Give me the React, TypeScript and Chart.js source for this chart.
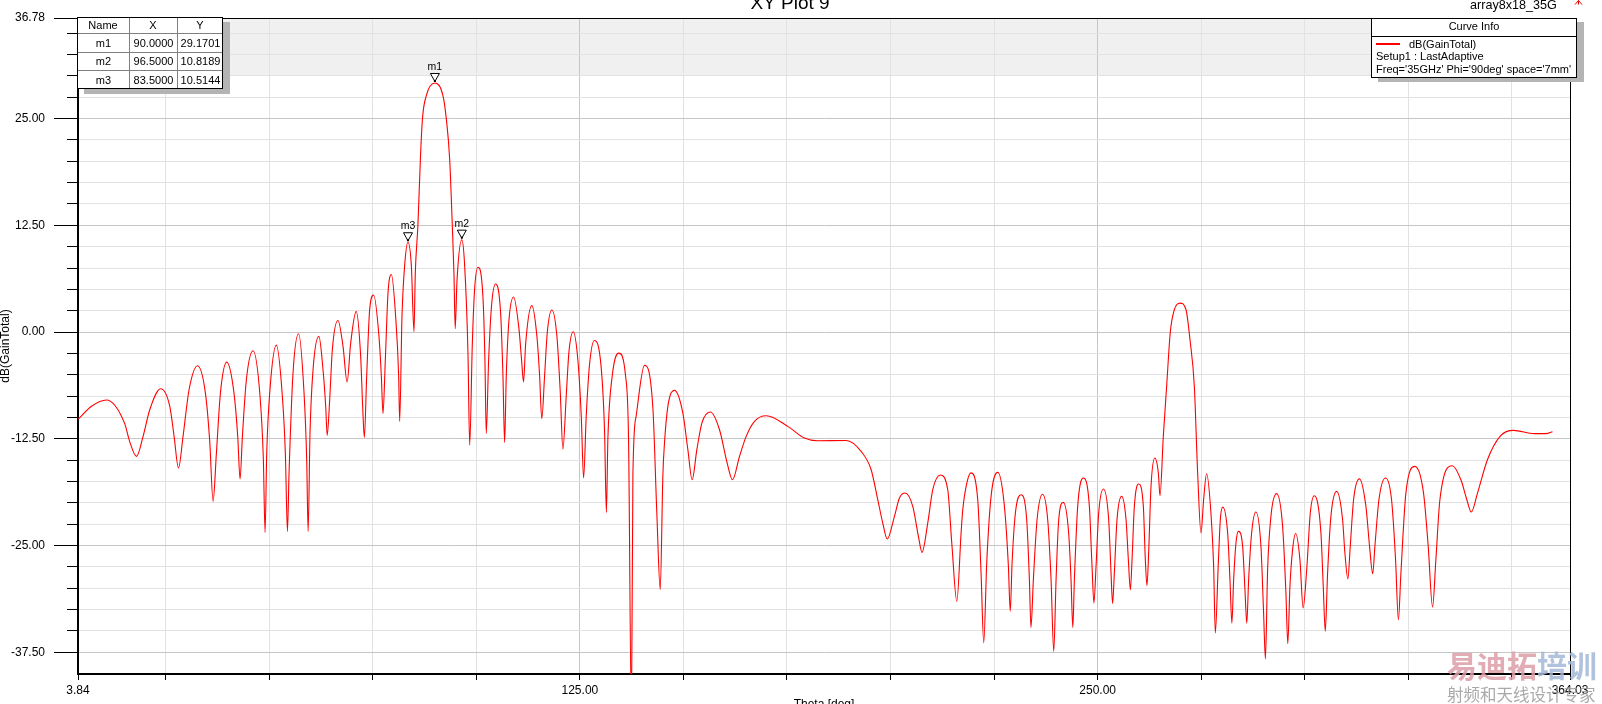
import React, { useEffect, useRef } from "react";
import { Chart, registerables } from "chart.js";

Chart.register(...registerables);

// ---- curve: theta (deg) and dB(GainTotal) ----
const thetaDeg: number[] = [
  3.9, 7.1, 10.7, 15.1, 16.3, 17.95,
  19.55, 21.16, 23.8, 26.0, 27.04, 28.1,
  29.2, 30.65, 32.7, 34.6, 35.64, 36.45,
  37.25, 38.22, 39.74, 41.5, 42.4, 42.96,
  43.53, 44.49, 46.1, 47.79, 48.59, 49.0,
  49.4, 50.12, 51.73, 53.18, 53.9, 54.4,
  54.79, 55.75, 57.1, 58.41, 59.05, 59.4,
  59.85, 60.58, 62.0, 62.99, 63.64, 64.0,
  64.6, 65.24, 66.6, 67.82, 68.8,
  69.67, 71.0, 72.08, 72.56, 72.97,
  73.53, 74.25, 75.2, 76.5, 77.07, 77.47,
  78.03, 78.68, 79.5, 80.53, 81.25, 81.5,
  82.05, 82.7, 83.5, 84.31, 84.95,
  85.27, 85.9, 86.5, 87.0, 87.93, 90.0, 91.94, 92.75, 93.56, 94.2, 94.6, 94.9,
  95.33, 96.5, 97.18, 97.98, 98.4,
  99.03, 99.59, 100.4, 101.6, 102.08, 102.4,
  102.97, 103.69, 104.66, 105.86, 106.43, 106.83,
  107.23, 107.87, 109.0, 110.29, 110.93, 111.4,
  111.9, 113.4, 114.63, 115.28, 115.8,
  116.48, 117.13, 118.25, 119.46, 120.26, 120.9,
  121.71, 122.35, 123.4, 124.52, 125.33, 125.9,
  126.54, 127.34, 128.5, 130.16, 130.96, 131.4,
  131.76, 132.81, 134.4, 136.03, 136.75, 137.45,
  137.8, 138.6, 140.6, 142.62, 143.59, 144.4,
  145.04, 145.4, 146.24, 147.85, 149.86, 151.07, 152.1,
  153.24, 154.45, 156.5, 158.71, 160.56, 161.85,
  163.54, 165.15, 167.16, 170.0, 175.2, 179.2, 182.4, 189.3,
  192.9, 195.3, 196.9, 198.12, 199.2,
  200.94, 202.15, 203.5, 205.36, 206.73, 207.6,
  208.98, 210.19, 212.0, 213.81, 214.78, 216.0,
  217.03, 217.43, 218.24, 219.4, 221.05, 221.85, 222.5,
  223.22, 224.27, 225.9, 227.49, 228.45, 228.9,
  229.34, 230.14, 231.5, 232.87, 233.52, 233.9,
  234.48, 235.37, 236.7, 237.94, 238.75, 239.4,
  239.96, 240.6, 241.7, 243.0, 243.57, 244.0,
  244.38, 245.18, 246.55, 248.0, 248.64, 249.1,
  249.61, 250.25, 251.4, 252.66, 253.23, 253.6,
  254.03, 254.67, 255.8, 256.85, 257.41, 257.9,
  258.3, 258.86, 259.9, 261.03, 261.51, 261.9,
  262.31, 262.88, 263.8, 264.65, 265.05,
  265.85, 266.65, 267.54, 268.51, 269.9, 271.33, 272.29, 273.34, 274.14, 274.95,
  275.58, 276.3, 277.35, 278.0, 278.4,
  279.13, 279.61, 280.2, 281.38, 281.94, 282.4,
  282.83, 283.39, 284.0, 285.0, 285.56, 286.0,
  286.45, 287.17, 288.2, 289.42, 290.06, 290.5,
  291.03, 291.83, 293.2, 294.65, 295.45, 295.9,
  296.42, 297.06, 297.8, 298.83, 299.6,
  300.52, 301.33, 302.3, 303.9, 304.46, 304.95,
  305.51, 306.31, 307.7, 309.13, 309.69, 310.4,
  310.98, 311.78, 313.2, 314.76, 315.64, 316.4,
  316.93, 317.9, 319.5, 320.95, 321.92, 322.6,
  323.21, 324.41, 326.6, 328.67, 329.8, 330.85,
  331.65, 332.62, 335.6, 337.69, 339.13, 340.2,
  341.7, 344.1, 347.3, 350.4, 355.4, 358.2, 359.8,
];

const gainDb: number[] = [
  -10.2, -8.7, -7.96, -10.7, -12.8, -14.56,
  -12.22, -9.1, -6.64, -8.7, -12.22, -15.93,
  -12.22, -6.76, -3.95, -7.15, -12.8, -19.83,
  -14.2, -7.15, -3.52, -7.15, -12.22, -17.22,
  -12.22, -5.59, -2.19, -7.54, -14.95, -23.46,
  -14.2, -7.15, -1.53, -7.54, -14.2, -23.35,
  -16.5, -4.8, -0.2, -7.15, -14.95, -23.35,
  -11.83, -4.41, -0.51, -4.41, -8.7, -12.1,
  -7.93, -2.07, 1.36, -1.68, -5.86,
  -1.29, 2.42, -2.85, -8.7, -12.34,
  -5.2, 2.61, 4.33, -0.53, -5.15, -9.55,
  -3.3, 4.57, 6.74, 1.79, -5.15, -10.48,
  1.79, 7.81, 10.51, 7.81, 0.03,
  6.9, 12.5, 20.3, 25.0, 27.7, 29.17, 27.7, 25.0, 20.3, 12.5, 6.9, 0.4,
  5.96, 10.82, 7.81, -2.38, -13.26,
  -1.45, 5.03, 7.58, 4.11, -3.3, -11.87,
  -3.3, 3.17, 5.63, 2.25, -5.15, -12.94,
  -5.15, 1.32, 4.11, 0.4, -3.3, -5.85,
  -1.45, 3.09, -0.53, -5.15, -10.15,
  -5.15, -0.06, 2.58, -0.53, -7.0, -13.72,
  -7.47, -2.38, 0.03, -3.3, -9.79, -17.1,
  -9.79, -3.77, -0.99, -4.23, -11.64, -21.13,
  -12.56, -5.15, -2.47, -5.15, -12.56, -45,
  -16.73, -9.79, -3.9, -8.86, -21.36, -30.17,
  -16.73, -13.2, -8.71, -6.83, -9.49, -13.78, -17.3,
  -13.78, -10.66, -9.37, -11.44, -15.34, -17.3,
  -14.56, -12.22, -10.46, -9.8, -11.05, -12.42, -12.73, -12.7,
  -13.98, -16.1, -19.6, -22.37, -24.24,
  -21.59, -19.44, -18.86, -20.42, -23.93, -25.8,
  -22.37, -18.47, -16.75, -18.47, -24.71, -31.54,
  -23.54, -20.81, -18.08, -16.5, -19.64, -28.22, -36.4,
  -27.05, -19.25, -16.44, -20.42, -27.44, -32.7,
  -27.05, -21.2, -19.05, -21.98, -29.0, -34.6,
  -29.0, -21.98, -19.0, -21.98, -29.0, -37.4,
  -29.0, -21.98, -19.95, -23.54, -29.0, -34.6,
  -29.0, -20.42, -17.1, -20.42, -27.44, -31.74,
  -27.44, -21.2, -18.39, -21.98, -28.22, -31.8,
  -28.22, -21.98, -19.25, -21.98, -26.66, -30.2,
  -26.66, -20.42, -17.8, -20.42, -26.66, -29.7,
  -25.88, -18.08, -14.76, -16.51, -19.17,
  -12.22, -6.37, 0, 2.61, 3.39, 2.61, -0.9, -6.37, -16.51, -23.54,
  -19.64, -16.6, -21.2, -27.44, -35.25,
  -27.05, -21.98, -20.5, -23.54, -29.0, -34.1,
  -29.0, -24.71, -23.35, -25.1, -30.18, -34.1,
  -29.0, -23.54, -21.08, -25.1, -32.9, -38.3,
  -27.83, -21.59, -18.93, -22.76, -30.57, -36.5,
  -29.78, -25.49, -23.6, -26.66, -32.3,
  -27.44, -21.2, -19.17, -23.54, -29.78, -35.05,
  -28.22, -21.59, -18.66, -21.98, -25.88, -28.9,
  -25.1, -19.64, -17.2, -20.42, -25.1, -28.3,
  -25.1, -19.64, -17.1, -19.64, -26.66, -33.7,
  -28.22, -18.86, -15.73, -18.86, -25.1, -32.2,
  -26.66, -19.64, -15.66, -17.3, -19.64, -21.08,
  -18.86, -14.95, -12.14, -11.52, -11.9, -11.9, -11.67,
];

// ---- axes ----
const xRange = [3.84, 364.03];
const yRange = [-40.05, 36.78];
const xTicks = [3.84, 25, 50, 75, 100, 125, 150, 175, 200, 225, 250, 275, 300, 325, 350, 364.03];
const xLabelTicks = [3.84, 125, 250, 364.03];
const xMajorGrid = [125, 250];
const yTicks = [
  -37.5, -35, -32.5, -30, -27.5, -25, -22.5, -20, -17.5, -15, -12.5, -10, -7.5, -5, -2.5,
  0, 2.5, 5, 7.5, 10, 12.5, 15, 17.5, 20, 22.5, 25, 27.5, 30, 32.5, 35, 36.78,
];
const yLabelTicks = [-37.5, -25, -12.5, 0, 12.5, 25, 36.78];
const bandRange = [30, 36.78];

// ---- markers ----
const markerNames = ["m1", "m2", "m3"];
const markerTheta = [90.0, 96.5, 83.5];
const markerGain = [29.1701, 10.8189, 10.5144];
const tableHeader = ["Name", "X", "Y"];

// ---- texts ----
const plotTitle = "XY Plot 9";
const designName = "array8x18_35G";
const xTitle = "Theta [deg]";
const yTitle = "dB(GainTotal)";
const legendTitle = "Curve Info";
const legendLines = ["dB(GainTotal)", "Setup1 : LastAdaptive", "Freq='35GHz' Phi='90deg' space='7mm'"];
const watermarkRed = "易迪拓";
const watermarkBlue = "培训";
const watermarkSub = "射频和天线设计专家";

const FONT = '"Liberation Sans", Arial, sans-serif';
const isIn = (v: number, arr: number[]) => arr.some((a) => Math.abs(a - v) < 1e-6);

const bandPlugin = {
  id: "band",
  beforeDraw(chart: any) {
    const { ctx, chartArea: a, scales } = chart;
    const yb = scales.y.getPixelForValue(bandRange[0]);
    const yt = scales.y.getPixelForValue(bandRange[1]);
    ctx.save();
    ctx.fillStyle = "#f0f0f0";
    ctx.fillRect(a.left, yt, a.right - a.left, yb - yt);
    ctx.restore();
  },
};

const decorPlugin = {
  id: "decor",
  afterDraw(chart: any) {
    const { ctx, chartArea: a, scales } = chart;
    const xs = scales.x;
    const ys = scales.y;
    ctx.save();
    ctx.fillStyle = "#000";
    // frame top & right
    ctx.fillRect(a.left, a.top, a.right - a.left + 1, 1);
    ctx.fillRect(a.right, a.top, 1, a.bottom - a.top);
    // tick marks
    yTicks.forEach((v) => {
      const p = Math.round(ys.getPixelForValue(v) - 0.5);
      const len = isIn(v, yLabelTicks) ? 24 : 11;
      ctx.fillRect(a.left - len, p, len, 1);
    });
    xTicks.forEach((v) => {
      const p = Math.round(xs.getPixelForValue(v) - 0.5);
      ctx.fillRect(p, a.bottom, 1, 6);
    });

    // markers
    markerNames.forEach((name, i) => {
      const px = xs.getPixelForValue(markerTheta[i]);
      const py = ys.getPixelForValue(markerGain[i]);
      ctx.beginPath();
      ctx.moveTo(px - 4.5, py - 9.5);
      ctx.lineTo(px + 4.5, py - 9.5);
      ctx.lineTo(px, py - 1.5);
      ctx.closePath();
      ctx.fillStyle = "#fff";
      ctx.fill();
      ctx.strokeStyle = "#000";
      ctx.lineWidth = 1;
      ctx.stroke();
      ctx.fillStyle = "#000";
      ctx.fillRect(px - 1, py - 3, 2, 2);
      ctx.font = `10.5px ${FONT}`;
      ctx.textAlign = "center";
      ctx.textBaseline = "alphabetic";
      ctx.fillText(name, px, py - 13);
    });

    // marker table
    const cols = [77, 129, 177, 223];
    const rows = [17, 33, 52, 70, 89];
    const textY = [25.5, 43.5, 62, 80.5];
    ctx.fillStyle = "#b4b4b4";
    ctx.fillRect(cols[0] + 7, rows[0] + 5, cols[3] - cols[0], rows[4] - rows[0]);
    ctx.fillStyle = "#fff";
    ctx.fillRect(cols[0], rows[0], cols[3] - cols[0], rows[4] - rows[0]);
    ctx.fillStyle = "#808080";
    for (let c = 1; c < 3; c++) ctx.fillRect(cols[c], rows[0], 1, rows[4] - rows[0]);
    for (let r = 1; r < 4; r++) ctx.fillRect(cols[0], rows[r], cols[3] - cols[0], 1);
    ctx.strokeStyle = "#000";
    ctx.lineWidth = 1;
    ctx.strokeRect(cols[0] + 0.5, rows[0] + 0.5, cols[3] - cols[0] - 1, rows[4] - rows[0] - 1);
    ctx.fillStyle = "#000";
    ctx.font = `11px ${FONT}`;
    ctx.textAlign = "center";
    ctx.textBaseline = "middle";
    tableHeader.forEach((h, c) => ctx.fillText(h, (cols[c] + cols[c + 1]) / 2, textY[0]));
    markerNames.forEach((name, i) => {
      const cells = [name, markerTheta[i].toFixed(4), markerGain[i].toFixed(4)];
      cells.forEach((t, c) => ctx.fillText(t, (cols[c] + cols[c + 1]) / 2 + 0.5, textY[i + 1]));
    });

    // curve info legend
    const lx0 = 1371, lx1 = 1577, ly0 = 18, ly1 = 78;
    ctx.fillStyle = "#b4b4b4";
    ctx.fillRect(lx0 + 7, ly0 + 4, lx1 - lx0, ly1 - ly0);
    ctx.fillStyle = "#fff";
    ctx.fillRect(lx0, ly0, lx1 - lx0, ly1 - ly0);
    ctx.strokeStyle = "#000";
    ctx.strokeRect(lx0 + 0.5, ly0 + 0.5, lx1 - lx0 - 1, ly1 - ly0 - 1);
    ctx.fillStyle = "#000";
    ctx.fillRect(lx0, 36, lx1 - lx0, 1);
    ctx.font = `11px ${FONT}`;
    ctx.textAlign = "center";
    ctx.textBaseline = "middle";
    ctx.fillText(legendTitle, (lx0 + lx1) / 2, 27);
    ctx.fillStyle = "#ff0000";
    ctx.fillRect(1376, 43, 24, 2);
    ctx.fillStyle = "#000";
    ctx.textAlign = "left";
    ctx.fillText(legendLines[0], 1409, 44.5);
    ctx.fillText(legendLines[1], 1376, 57);
    ctx.fillText(legendLines[2], 1376, 69.5);

    // title & design name
    ctx.font = `19px ${FONT}`;
    ctx.textAlign = "center";
    ctx.textBaseline = "alphabetic";
    ctx.fillText(plotTitle, 790, 9);
    ctx.font = `12.6px ${FONT}`;
    ctx.textAlign = "left";
    ctx.fillText(designName, 1470, 8.5);
    ctx.strokeStyle = "#e00000";
    ctx.lineWidth = 1;
    ctx.beginPath();
    ctx.moveTo(1575, 4.5);
    ctx.lineTo(1578.5, 0.5);
    ctx.lineTo(1582, 4.5);
    ctx.moveTo(1578.5, 0.5);
    ctx.lineTo(1578.5, 4.5);
    ctx.stroke();

    // axis titles
    ctx.fillStyle = "#000";
    ctx.font = `12px ${FONT}`;
    ctx.textAlign = "center";
    ctx.textBaseline = "alphabetic";
    ctx.fillText(xTitle, (a.left + a.right) / 2, 707.5);
    ctx.save();
    ctx.translate(6, 346);
    ctx.rotate(-Math.PI / 2);
    ctx.textBaseline = "middle";
    ctx.fillText(yTitle, 0, 0);
    ctx.restore();

    // watermark
    ctx.globalAlpha = 0.85;
    ctx.font = `bold 30px "Noto Sans CJK SC", sans-serif`;
    ctx.textAlign = "left";
    ctx.textBaseline = "middle";
    ctx.fillStyle = "#dc9ea6";
    ctx.fillText(watermarkRed, 1447, 666);
    const w = ctx.measureText(watermarkRed).width;
    ctx.fillStyle = "#a3b8d6";
    ctx.fillText(watermarkBlue, 1447 + w, 666);
    ctx.font = `16.5px "Noto Sans CJK SC", sans-serif`;
    ctx.fillStyle = "#9a9a9a";
    ctx.fillText(watermarkSub, 1447, 694.5);
    ctx.restore();
  },
};

export default function App() {
  const ref = useRef<HTMLCanvasElement>(null);
  useEffect(() => {
    const canvas = ref.current;
    if (!canvas) return;
    const points = thetaDeg.map((t, i) => ({ x: t, y: gainDb[i] }));
    const chart = new Chart(canvas, {
      type: "line",
      data: {
        datasets: [
          {
            data: points,
            borderColor: "#ff0000",
            borderWidth: 1.1,
            pointRadius: 0,
            fill: false,
            cubicInterpolationMode: "monotone",
          } as any,
        ],
      },
      options: {
        animation: false,
        responsive: false,
        devicePixelRatio: 1,
        events: [],
        layout: { padding: { top: 18, right: 32, bottom: 0, left: 0 } },
        plugins: { legend: { display: false }, tooltip: { enabled: false }, title: { display: false } },
        scales: {
          x: {
            type: "linear",
            min: xRange[0],
            max: xRange[1],
            afterBuildTicks: (s: any) => {
              s.ticks = xTicks.map((v) => ({ value: v }));
            },
            afterFit: (s: any) => {
              s.height = 30;
              s.paddingLeft = 0;
              s.paddingRight = 0;
            },
            ticks: {
              autoSkip: false,
              maxRotation: 0,
              minRotation: 0,
              padding: 9,
              color: "#000",
              font: { family: FONT, size: 12 },
              callback: (v: any) => (isIn(Number(v), xLabelTicks) ? Number(v).toFixed(2) : ""),
            },
            grid: {
              drawTicks: false,
              lineWidth: 1,
              color: (c: any) => {
                const v = c.tick ? c.tick.value : 0;
                if (isIn(v, [xRange[0], xRange[1]])) return "rgba(0,0,0,0)";
                return isIn(v, xMajorGrid) ? "#c6c6c6" : "#e2e2e2";
              },
            },
            border: { display: true, color: "#000", width: 2 },
          },
          y: {
            type: "linear",
            min: yRange[0],
            max: yRange[1],
            afterBuildTicks: (s: any) => {
              s.ticks = yTicks.map((v) => ({ value: v }));
            },
            afterFit: (s: any) => {
              s.width = 78;
              s.paddingTop = 0;
              s.paddingBottom = 0;
            },
            ticks: {
              autoSkip: false,
              padding: 33,
              color: "#000",
              font: { family: FONT, size: 12 },
              callback: (v: any) => (isIn(Number(v), yLabelTicks) ? Number(v).toFixed(2) : ""),
            },
            grid: {
              drawTicks: false,
              lineWidth: 1,
              color: (c: any) => {
                const v = c.tick ? c.tick.value : 0;
                if (isIn(v, [yRange[1]])) return "rgba(0,0,0,0)";
                return Math.abs(v / 12.5 - Math.round(v / 12.5)) < 1e-6 ? "#c6c6c6" : "#e2e2e2";
              },
            },
            border: { display: true, color: "#000", width: 2 },
          },
        },
      } as any,
      plugins: [bandPlugin, decorPlugin],
    });
    return () => chart.destroy();
  }, []);
  return (
    <div style={{ position: "absolute", left: 0, top: 0, width: 1602, height: 704, background: "#fff", overflow: "hidden" }}>
      <canvas ref={ref} width={1602} height={704} style={{ display: "block", width: 1602, height: 704 }} />
    </div>
  );
}
